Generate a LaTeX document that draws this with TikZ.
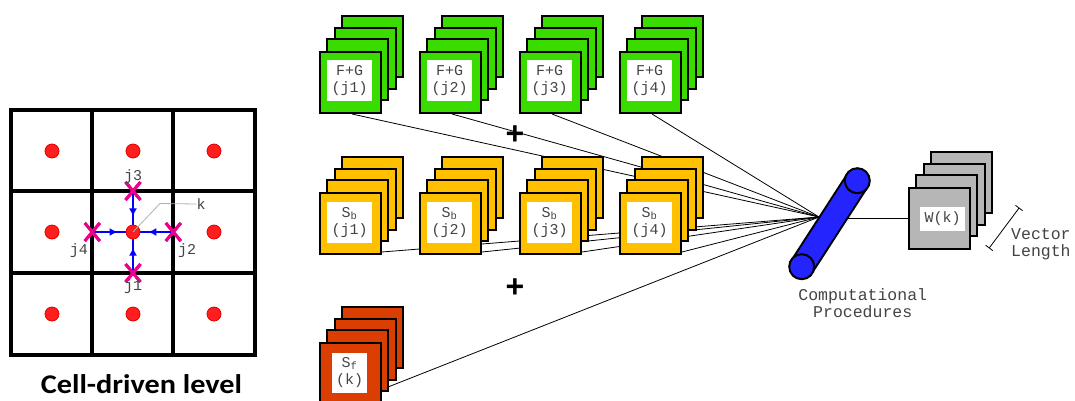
\documentclass[tikz,border=0pt]{standalone}
\usepackage{fontspec}
\usetikzlibrary{arrows.meta,calc,shapes.misc,decorations.markings}
\newfontfamily\monof{Liberation Mono}
\newfontfamily\titlef{Carlito}[FakeStretch=1.12]
\newfontfamily\plusf{Liberation Sans}
\definecolor{fgreen}{RGB}{58,220,0}
\definecolor{fyellow}{RGB}{255,192,0}
\definecolor{fred}{RGB}{218,62,0}
\definecolor{fgray}{RGB}{182,182,182}
\definecolor{fblue}{RGB}{36,36,255}
\definecolor{txtgray}{RGB}{68,68,68}
\definecolor{dotred}{RGB}{255,30,30}
\definecolor{dotedge}{RGB}{225,0,0}
\pgfdeclarelayer{bg}
\pgfdeclarelayer{paper}
\pgfsetlayers{paper,bg,main}
\tikzset{
  boxline/.style={draw=black, line width=2},
  frontbox/.style={boxline, rectangle, minimum width=61, minimum height=61, inner sep=0, anchor=north west},
  lbl/.style={fill=white, inner sep=0, align=center, text=txtgray, font=\monof\fontsize{15}{16.6}\selectfont},
  conn/.style={draw=black, line width=0.8},
  gridline/.style={draw=black, line width=4},
  reddot/.style={circle, fill=dotred, draw=dotedge, line width=0.8, minimum size=14, inner sep=0},
  xmark/.style={cross out, draw=magenta, line width=3, minimum width=12, minimum height=15, inner sep=0},
  flowarrow/.style={draw=blue, line width=1.5, decoration={markings, mark=at position 0.62 with {\arrow{Latex[length=8,width=8]}}}, postaction=decorate},
  gtxt/.style={text=txtgray, font=\monof\fontsize{15}{16}\selectfont, inner sep=0},
  bigtxt/.style={text=txtgray, font=\monof\fontsize{16.5}{16.7}\selectfont, inner sep=0, align=center},
  plussign/.style={font=\plusf\bfseries\fontsize{32}{32}\selectfont, inner sep=0},
  cylend/.style={circle, draw=black, line width=2, fill=fblue, minimum size=25, inner sep=0},
}
\newcommand\mystack[4]{%
  \foreach \i in {3,2,1}{\draw[boxline, fill=#4] ({#2+7.75*\i},{#3-11.7*\i}) rectangle ++(61,61);}
  \node[frontbox, fill=#4] (#1) at (#2,#3) {};
}
\begin{document}
\begin{tikzpicture}[x=1pt,y=-1pt]
\useasboundingbox (0,0) rectangle (1075,400);
\begin{pgfonlayer}{paper}
\fill[white] (0,0) rectangle (1075,400);
\end{pgfonlayer}

% ---------- grid ----------
\draw[gridline] (11,110) rectangle (255,355);
\draw[gridline] (92.3,110) -- (92.3,355) (173.3,110) -- (173.3,355)
                (11,191) -- (255,191) (11,273) -- (255,273);
\coordinate (kc) at (133,232);
\node[xmark] (xj3) at (133,191) {};
\node[xmark] (xj1) at (133,273) {};
\node[xmark] (xj4) at (92.3,232) {};
\node[xmark] (xj2) at (173.3,232) {};
\draw[flowarrow] (xj3.center) -- (kc);
\draw[flowarrow] (xj1.center) -- (kc);
\draw[flowarrow] (xj4.center) -- (kc);
\draw[flowarrow] (xj2.center) -- (kc);
\node[xmark] at (xj3) {};
\node[xmark] at (xj1) {};
\node[xmark] at (xj4) {};
\node[xmark] at (xj2) {};
\foreach \cx/\cy/\n in {52/151/a,133/151/b,214/151/c,52/232/d,133/232/e,214/232/f,52/314/g,133/314/h,214/314/i}
  \node[reddot] (dot\n) at (\cx,\cy) {};
\node[gtxt] (lj3) at (133,177) {j3};
\node[gtxt] (lj1) at (133,287) {j1};
\node[gtxt] (lj4) at (79,251) {j4};
\node[gtxt] (lj2) at (187,251) {j2};
\node[gtxt] (lk) at (201,204) {k};
\coordinate (kbend) at (160,203.5);
\draw[gray!60, line width=0.8] (dote.center) -- (kbend) -- (lk.west);
\node[font=\titlef\bfseries\fontsize{27}{30}\selectfont, anchor=base, inner sep=0] (title) at (141.5,393) {Cell-driven level};

% ---------- stacks ----------
\mystack{g1}{319}{51}{fgreen}
\mystack{g2}{419}{51}{fgreen}
\mystack{g3}{519}{51}{fgreen}
\mystack{g4}{619}{51}{fgreen}
\mystack{y1}{319}{192}{fyellow}
\mystack{y2}{419}{192}{fyellow}
\mystack{y3}{519}{192}{fyellow}
\mystack{y4}{619}{192}{fyellow}
\mystack{r1}{319}{342}{fred}
\mystack{w1}{908}{187}{fgray}

\node[lbl, minimum width=45, minimum height=41] (g1l) at ($(g1.center)+(-1,-2)$) {F+G\\(j1)};
\node[lbl, minimum width=45, minimum height=41] (g2l) at ($(g2.center)+(-1,-2)$) {F+G\\(j2)};
\node[lbl, minimum width=45, minimum height=41] (g3l) at ($(g3.center)+(-1,-2)$) {F+G\\(j3)};
\node[lbl, minimum width=45, minimum height=41] (g4l) at ($(g4.center)+(-1,-2)$) {F+G\\(j4)};
\node[lbl, minimum width=45, minimum height=41] (y1l) at ($(y1.center)+(-1,-1)$) {S\textsubscript{b}\\[1pt](j1)};
\node[lbl, minimum width=45, minimum height=41] (y2l) at ($(y2.center)+(-1,-1)$) {S\textsubscript{b}\\[1pt](j2)};
\node[lbl, minimum width=45, minimum height=41] (y3l) at ($(y3.center)+(-1,-1)$) {S\textsubscript{b}\\[1pt](j3)};
\node[lbl, minimum width=45, minimum height=41] (y4l) at ($(y4.center)+(-1,-1)$) {S\textsubscript{b}\\[1pt](j4)};
\node[lbl, minimum width=35, minimum height=40] (r1l) at ($(r1.center)+(-1,-1)$) {S\textsubscript{f}\\[1pt](k)};
\node[lbl, minimum width=45, minimum height=24, font=\monof\fontsize{15}{16}\selectfont] (w1l) at ($(w1.center)+(3,0)$) {W(k)};

% ---------- connectors ----------
\coordinate (C) at (819,217);
\coordinate (raxis) at (834,218);
\coordinate (rout) at (388,387);
\begin{pgfonlayer}{bg}
\foreach \s in {g1,g2,g3,g4}
  \draw[conn] ($(\s.south west)+(33,0)$) -- (C);
\foreach \s in {y1,y2,y3,y4}
  \draw[conn] ($(\s.south east)+(0,-3)$) -- (C);
\draw[conn] (rout) -- (C);
\draw[conn] (raxis) -- (raxis -| w1.west);
\end{pgfonlayer}

\node[plussign] (p1) at (515,135) {+};
\node[plussign] (p2) at (515,288) {+};

% ---------- cylinder ----------
\coordinate (cA) at (801.7,266.7);
\coordinate (cB) at (857.3,180.7);
\draw[line width=26, black] (cA) -- (cB);
\draw[line width=22, fblue] (cA) -- (cB);
\node[cylend] (cylA) at (cA) {};
\node[cylend] (cylB) at (cB) {};
\node[bigtxt] (cp) at (862.7,303) {Computational\\Procedures};

% ---------- vector length ----------
\coordinate (vl1) at (1019.3,207.7);
\coordinate (vl2) at (989,248.3);
\draw[line width=0.8, {Bar[width=9]}-{Bar[width=9]}] (vl1) -- (vl2);
\node[bigtxt, anchor=west, align=left] (vlt) at (1011,244) {Vector\\Length};
\end{tikzpicture}
\end{document}
